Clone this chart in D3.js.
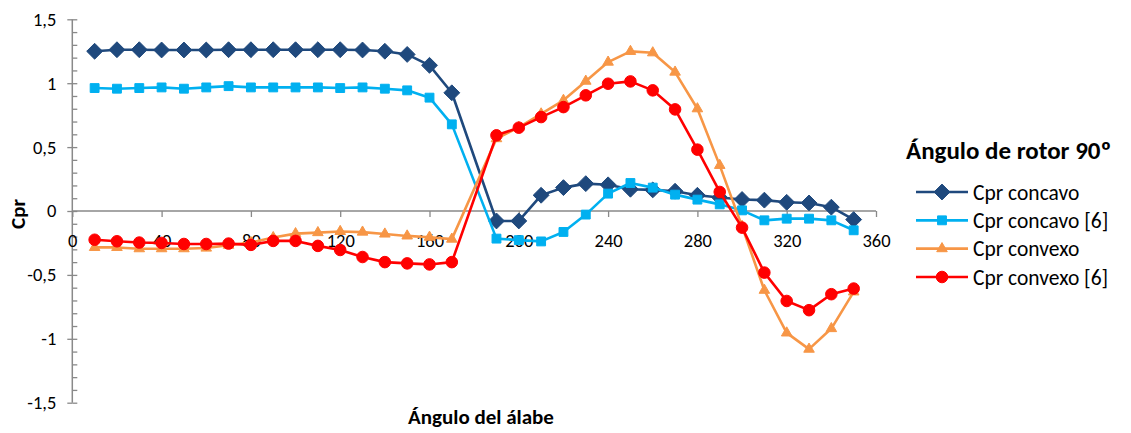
<!DOCTYPE html>
<html>
<head>
<meta charset="utf-8">
<script src="https://cdn.jsdelivr.net/npm/d3@7"></script>
<style>
  html, body { margin: 0; padding: 0; background: #fff; }
  svg { display: block; font-family: Carlito, Lato, "Open Sans", sans-serif; }
</style>
</head>
<body>
<svg id="chart" width="1131" height="433"></svg>
<script>
// Blade angle (degrees); there is no measurement at 180
const angles = [10, 20, 30, 40, 50, 60, 70, 80, 90, 100, 110, 120, 130, 140, 150, 160, 170,
                190, 200, 210, 220, 230, 240, 250, 260, 270, 280, 290, 300, 310, 320, 330, 340, 350];

const cprConcavo = [1.25, 1.262, 1.262, 1.26, 1.26, 1.26, 1.262, 1.262, 1.262, 1.262, 1.262, 1.262, 1.26, 1.25, 1.225, 1.14, 0.925,
                    -0.078, -0.078, 0.123, 0.183, 0.214, 0.205, 0.17, 0.165, 0.155, 0.123, 0.105, 0.09, 0.085, 0.068, 0.063, 0.03, -0.067];

const cprConcavo6 = [0.962, 0.957, 0.962, 0.967, 0.957, 0.967, 0.977, 0.967, 0.967, 0.967, 0.967, 0.962, 0.967, 0.957, 0.944, 0.887, 0.678,
                     -0.216, -0.228, -0.238, -0.164, -0.028, 0.136, 0.219, 0.183, 0.128, 0.089, 0.052, 0.005, -0.073, -0.06, -0.06, -0.073, -0.151];

const cprConvexo = [-0.285, -0.285, -0.295, -0.295, -0.295, -0.29, -0.268, -0.247, -0.208, -0.177, -0.169, -0.16, -0.165, -0.18, -0.195, -0.205, -0.22,
                    0.566, 0.655, 0.76, 0.866, 1.016, 1.165, 1.249, 1.238, 1.087, 0.80, 0.357, -0.12, -0.62, -0.954, -1.081, -0.92, -0.633];

const cprConvexo6 = [-0.225, -0.237, -0.247, -0.25, -0.258, -0.258, -0.255, -0.265, -0.234, -0.234, -0.273, -0.305, -0.36, -0.4, -0.41, -0.418, -0.4,
                     0.592, 0.652, 0.735, 0.813, 0.905, 0.996, 1.014, 0.944, 0.795, 0.48, 0.149, -0.13, -0.482, -0.704, -0.776, -0.651, -0.607];

const seriesNames = ["Cpr concavo", "Cpr concavo [6]", "Cpr convexo", "Cpr convexo [6]"];
const xTicks = [0, 40, 80, 120, 160, 200, 240, 280, 320, 360];
const yTicks = [-1.5, -1, -0.5, 0, 0.5, 1, 1.5];
const legendTitle = "Ángulo de rotor 90º";
const xTitle = "Ángulo del álabe";
const yTitle = "Cpr";

const series = [
  { name: seriesNames[0], values: cprConcavo,  color: "#1F497D", symbol: d3.symbolDiamond2, size: 160 },
  { name: seriesNames[1], values: cprConcavo6, color: "#00B0F0", symbol: d3.symbolSquare2,  size: 100 },
  { name: seriesNames[2], values: cprConvexo,  color: "#F79646", symbol: d3.symbolTriangle2, size: 80 },
  { name: seriesNames[3], values: cprConvexo6, color: "#FF0000", symbol: d3.symbolCircle,   size: 105 }
];

const svg = d3.select("#chart");
const axisColor = "#898989";
const labelFont = "Carlito, Lato, sans-serif";

const x = d3.scaleLinear().domain([0, 360]).range([72.3, 876]);
const y = d3.scaleLinear().domain([-1.5, 1.5]).range([402.7, 19.3]);

// Spanish decimal comma, plain hyphen for negatives
const fmt = v => String(v).replace(".", ",");

// Vertical axis: major ticks every 0.5 crossing the line, minor ticks every 0.1 inside
const yAxis = svg.append("g").attr("transform", `translate(${x(0)},0)`);
yAxis.append("g")
  .call(d3.axisRight(y).tickValues(d3.range(-15, 16, 1).map(v => v / 10)).tickSize(5).tickFormat(""))
  .call(g => g.select(".domain").remove())
  .call(g => g.selectAll("line").attr("stroke", axisColor).attr("stroke-width", 1.3));
yAxis.append("g")
  .call(d3.axisLeft(y).tickValues(yTicks).tickSize(5).tickPadding(11).tickFormat(fmt))
  .call(g => g.select(".domain").attr("stroke", axisColor).attr("stroke-width", 1.5).attr("d", `M0,${y(1.5)}V${y(-1.5)}`))
  .call(g => g.selectAll("line").attr("stroke", axisColor).attr("stroke-width", 1.3))
  .call(g => g.selectAll("text").attr("font-size", 18.5).attr("fill", "#000").attr("font-family", labelFont));

// Horizontal axis sits at Cpr = 0
const xAxis = svg.append("g").attr("transform", `translate(0,${y(0)})`);
xAxis.call(d3.axisBottom(x).tickValues(xTicks).tickSize(6).tickPadding(17).tickFormat(d3.format("d")))
  .call(g => g.select(".domain").attr("stroke", axisColor).attr("stroke-width", 1.5).attr("d", `M${x(0)},0H${x(360)}`))
  .call(g => g.selectAll("line").attr("stroke", axisColor).attr("stroke-width", 1.3))
  .call(g => g.selectAll("text").attr("font-size", 18.5).attr("fill", "#000").attr("font-family", labelFont));

// Series lines and markers
const line = d3.line().x((d, i) => x(angles[i])).y(d => y(d));
const plot = svg.append("g");
series.forEach(s => {
  const g = plot.append("g");
  g.append("path")
    .attr("d", line(s.values))
    .attr("fill", "none")
    .attr("stroke", s.color)
    .attr("stroke-width", 2.6)
    .attr("stroke-linejoin", "round");
  g.selectAll("path.mk")
    .data(s.values)
    .join("path")
    .attr("class", "mk")
    .attr("transform", (d, i) => `translate(${x(angles[i])},${y(d)})`)
    .attr("d", d3.symbol().type(s.symbol).size(s.size))
    .attr("fill", s.color)
    .attr("stroke", s.color)
    .attr("stroke-width", 1);
});

// Axis titles
svg.append("text")
  .attr("x", 481).attr("y", 424)
  .attr("text-anchor", "middle")
  .attr("font-size", 21).attr("font-weight", "bold")
  .text(xTitle);

svg.append("text")
  .attr("transform", `translate(25,${y(0) + 3}) rotate(-90)`)
  .attr("text-anchor", "middle")
  .attr("font-size", 21).attr("font-weight", "bold")
  .text(yTitle);

// Legend
const legend = svg.append("g");
legend.append("text")
  .attr("x", 906).attr("y", 159)
  .attr("font-size", 25).attr("font-weight", "bold")
  .text(legendTitle);

const rowY = d3.scalePoint().domain(seriesNames).range([192, 277]);
series.forEach(s => {
  const cy = rowY(s.name);
  legend.append("line")
    .attr("x1", 916).attr("x2", 968).attr("y1", cy).attr("y2", cy)
    .attr("stroke", s.color).attr("stroke-width", 2.6);
  legend.append("path")
    .attr("transform", `translate(942,${cy})`)
    .attr("d", d3.symbol().type(s.symbol).size(s.size))
    .attr("fill", s.color).attr("stroke", s.color).attr("stroke-width", 1);
  legend.append("text")
    .attr("x", 973).attr("y", cy)
    .attr("dy", "0.35em")
    .attr("font-size", 21.5)
    .text(s.name);
});
</script>
</body>
</html>
